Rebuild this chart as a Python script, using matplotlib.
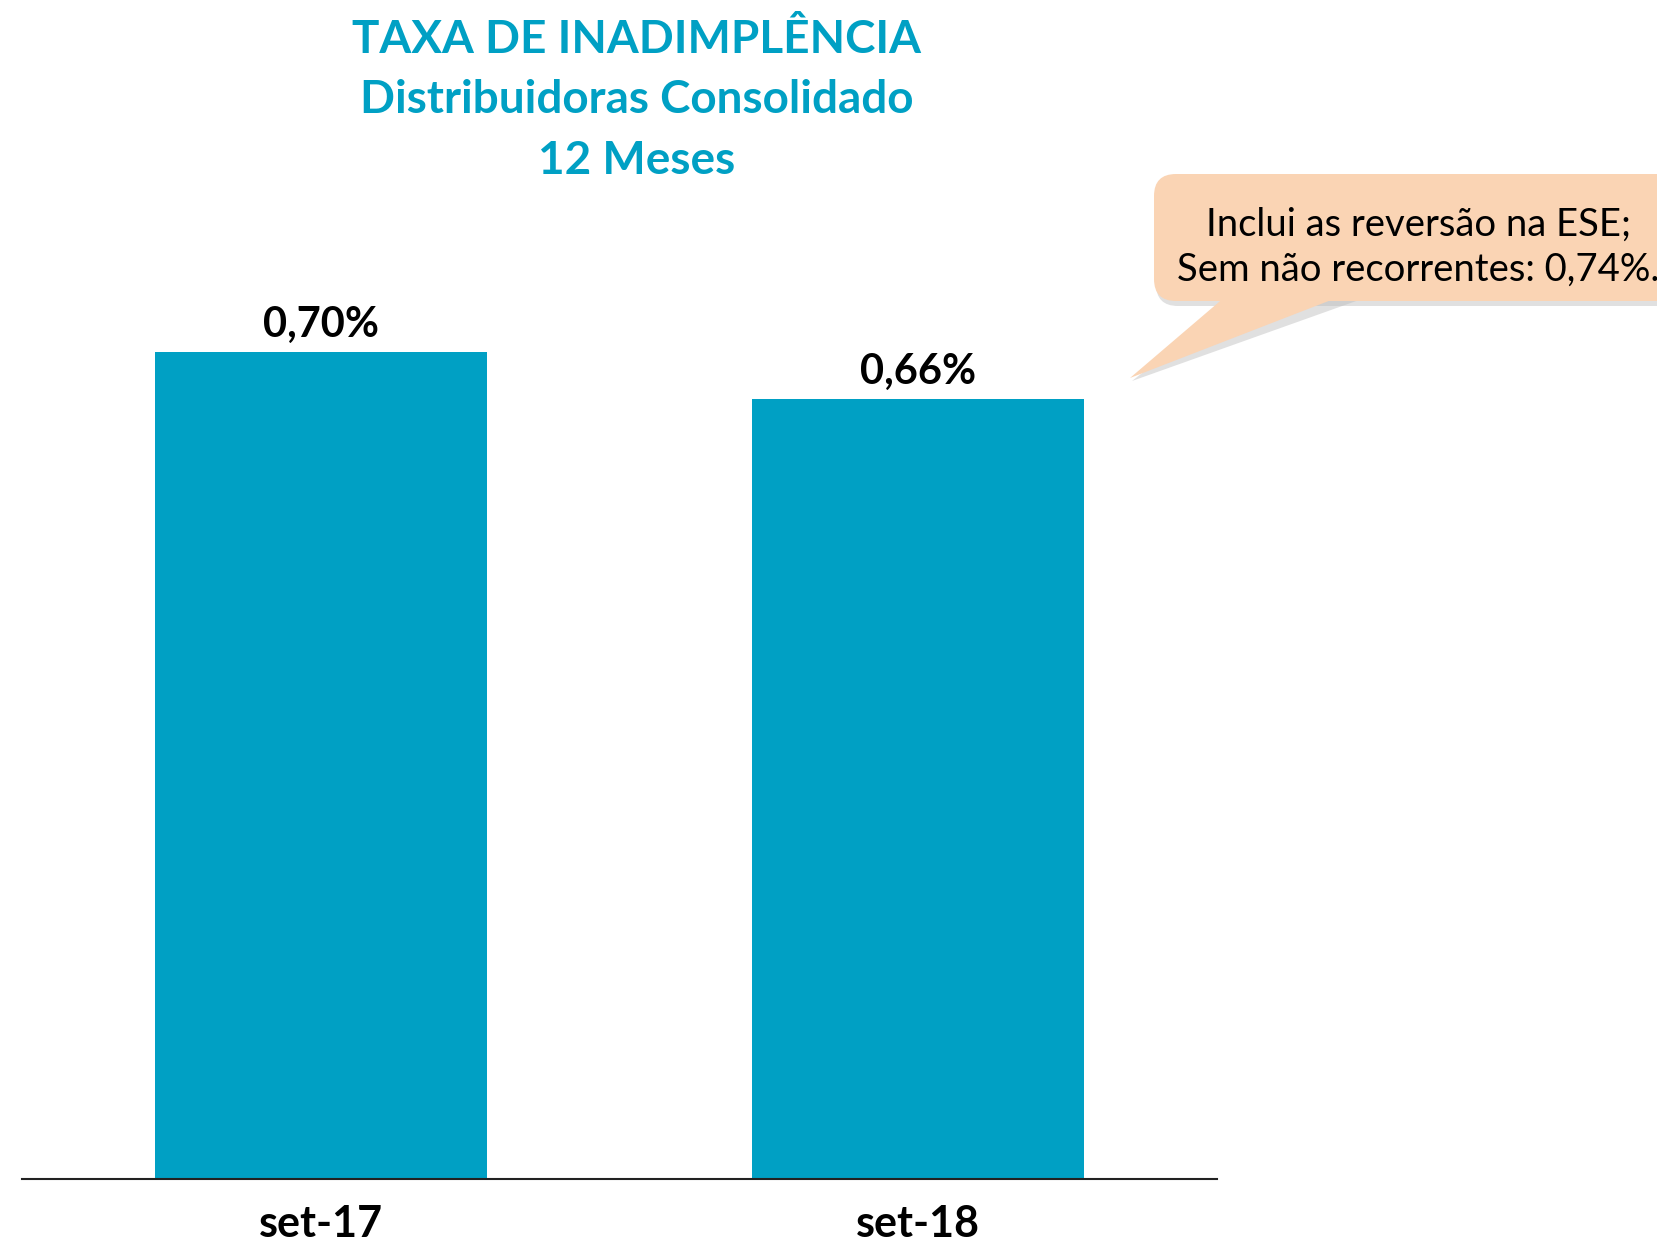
import matplotlib.pyplot as plt
from matplotlib.patches import FancyBboxPatch, Polygon

# data
categories = ['set-17', 'set-18']
values = [0.70, 0.66]
value_labels = ['0,70%', '0,66%']

title_lines = ['TAXA DE INADIMPLÊNCIA', 'Distribuidoras Consolidado', '12 Meses']
note_text = 'Inclui as reversão na ESE;\nSem não recorrentes: 0,74%.'

teal = '#00A0C4'
W, H = 1657, 1241

fig = plt.figure(figsize=(W / 100, H / 100), dpi=100)
plt.rcParams['font.family'] = ['Lato', 'DejaVu Sans']

# main axes: x from 22 to 1217 px, bottom at 1179 px
ax = fig.add_axes([22 / W, (H - 1179) / H, 1195 / W, 945 / H])
x = range(len(categories))
bars = ax.bar(x, values, width=0.556, color=teal)
ax.set_xlim(-0.5, 1.5)
ax.set_ylim(0, 0.8)
for s in ['top', 'right', 'left']:
    ax.spines[s].set_visible(False)
ax.spines['bottom'].set_linewidth(1.5)
ax.spines['bottom'].set_color('#222222')
ax.set_yticks([])
ax.set_xticks(list(x))
ax.set_xticklabels(categories, fontsize=31, fontweight='bold')
ax.tick_params(axis='x', length=0, pad=18)

for b, lab in zip(bars, value_labels):
    ax.annotate(lab, (b.get_x() + b.get_width() / 2, b.get_height()),
                xytext=(0, 6), textcoords='offset points',
                ha='center', va='bottom', fontsize=30, fontweight='bold')

# overlay in pixel coordinates for title and callout
ov = fig.add_axes([0, 0, 1, 1])
ov.set_xlim(0, W)
ov.set_ylim(H, 0)
ov.axis('off')

for yy, line in zip([40, 100, 161], title_lines):
    ov.text(637, yy, line, ha='center', va='center', fontsize=33,
            fontweight='bold', color=teal)

# callout with shadow
peach = '#FAD4B4'
sh = 5
ov.add_patch(FancyBboxPatch((1154 + 2, 174 + sh), 560, 127,
                            boxstyle='round,pad=0,rounding_size=22',
                            fc='#bbbbbb', ec='none', alpha=0.45))
ov.add_patch(Polygon([(1233 + 2, 300), (1357 + 2, 300), (1130 + 2, 378 + 3)],
                     closed=True, fc='#bbbbbb', ec='none', alpha=0.45))
ov.add_patch(FancyBboxPatch((1154, 174), 560, 127,
                            boxstyle='round,pad=0,rounding_size=22',
                            fc=peach, ec='none'))
ov.add_patch(Polygon([(1233, 290), (1357, 290), (1130, 378)],
                     closed=True, fc=peach, ec='none'))
ov.text(1418, 247, note_text, ha='center', va='center', fontsize=27.5,
        linespacing=1.3, color='black')

fig.savefig('out.png', dpi=100)
